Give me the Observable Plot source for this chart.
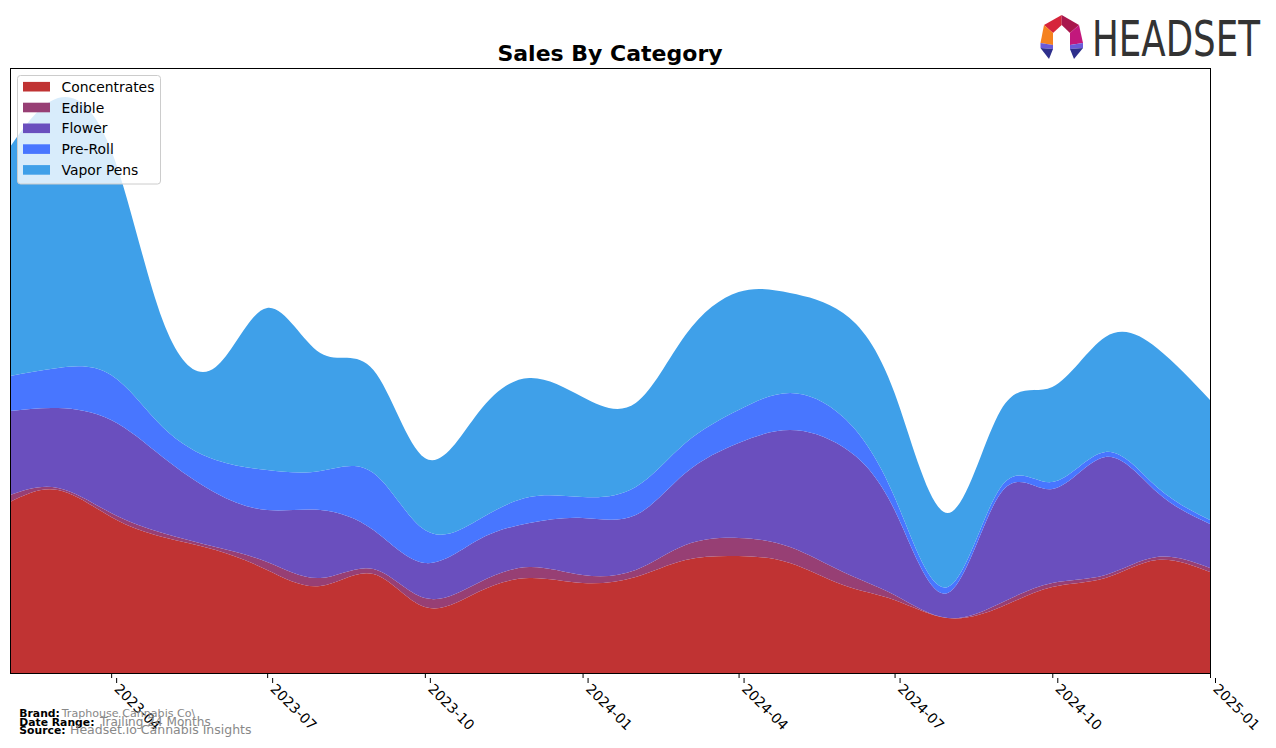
<!DOCTYPE html>
<html><head><meta charset="utf-8">
<script src="https://cdn.jsdelivr.net/npm/d3@7"></script>
<script src="https://cdn.jsdelivr.net/npm/@observablehq/plot@0.6"></script>
<style>
body{margin:0;background:#fff;}
#wrap{position:relative;width:1276px;height:748px;overflow:hidden;font-family:"DejaVu Sans",sans-serif;}
#wrap > svg{position:absolute;left:0;top:0;}
</style></head><body><div id="wrap"></div>
<script>
// ---- data ----
const months = ["2023-02","2023-03","2023-04","2023-05","2023-06","2023-07","2023-08","2023-09","2023-10","2023-11","2023-12",
  "2024-01","2024-02","2024-03","2024-04","2024-05","2024-06","2024-07","2024-08","2024-09","2024-10","2024-11","2024-12","2025-01"];
const categories = ["Concentrates","Edible","Flower","Pre-Roll","Vapor Pens"];
const colors = ["#c03333","#973f74","#6a4fbe","#4876ff","#3fa0e9"];
const concentrates = [171,183,156,136,123,103,87,99,66,81,95,90,96,113,117,110,88,73,55,66,86,95,113,101];
const edible       = [7,2,4,4,3,8,8,5,9,9,11,8,7,15,18,16,13,5,0,4,4,3,3,4];
const flower       = [84,80,93,76,54,52,68,39,35,43,44,57,55,72,95,117,125,85,25,110,94,118,65,44];
const preRoll      = [35,40,45,30,33,40,39,57,33,20,26,21,28,30,33,37,30,13,6,6,7,5,5,4];
const vaporPens    = [229,270,225,107,93,162,118,103,72,107,119,100,84,108,118,100,104,104,74,77,95,115,139,120];
const tickLabels = ["2023-04","2023-07","2023-10","2024-01","2024-04","2024-07","2024-10","2025-01"];
const seriesValues = [concentrates, edible, flower, preRoll, vaporPens];

const parse = d3.utcParse("%Y-%m");
const table = [];
categories.forEach((c, ci) => months.forEach((m, i) => table.push({date: parse(m), category: c, value: seriesValues[ci][i]})));
const tickDates = tickLabels.map(parse);

const chart = Plot.plot({
  width: 1276, height: 748,
  marginLeft: 10, marginRight: 66, marginTop: 68, marginBottom: 75,
  style: {fontFamily: "DejaVu Sans, sans-serif", background: "transparent", overflow: "visible", color: "black"},
  x: {type: "utc", domain: [parse(months[0]), parse(months[months.length - 1])]},
  y: {domain: [0, 605], axis: null},
  color: {domain: categories, range: colors},
  marks: [
    Plot.areaY(table, {x: "date", y: "value", fill: "category", order: categories, curve: "natural"}),
    Plot.frame({stroke: "black", strokeWidth: 1}),
    Plot.axisX(tickDates, {text: null, tickSize: 5, stroke: "black"}),
    Plot.axisX(tickDates, {tickFormat: d3.utcFormat("%Y-%m"), tickRotate: 45, tickSize: 5, tickPadding: 3, dx: 5, dy: 5, fontSize: 14, fill: "black", label: null, tick: null})
  ]
});
const wrap = document.getElementById("wrap");
wrap.appendChild(chart);

// ---- overlay: title, legend, logo, footer ----
const ov = d3.select(wrap).append("svg").attr("width", 1276).attr("height", 748)
  .style("font-family", "DejaVu Sans, sans-serif");

ov.append("text").attr("x", 610).attr("y", 61).attr("text-anchor", "middle")
  .attr("font-size", 22).attr("font-weight", "bold").attr("fill", "black").text("Sales By Category");

// legend
const lg = ov.append("g");
lg.append("rect").attr("x", 17.5).attr("y", 75.5).attr("width", 143).attr("height", 108.5).attr("rx", 3)
  .attr("fill", "rgba(255,255,255,0.8)").attr("stroke", "#cccccc");
categories.forEach((c, i) => {
  const cy = 86.7 + i * 20.8;
  lg.append("rect").attr("x", 23).attr("y", cy - 4.8).attr("width", 27).attr("height", 9.6).attr("fill", colors[i]);
  lg.append("text").attr("x", 61.5).attr("y", cy + 5).attr("font-size", 13.9).attr("fill", "black").text(c);
});

// logo
const logo = ov.append("g");
const polys = [
  {p: [[1044,25],[1061.7,15],[1061.7,25],[1053,33]], f: "#d6243a"},
  {p: [[1061.7,15],[1079,25],[1070,33],[1061.7,25]], f: "#a9174d"},
  {p: [[1044,25],[1053,33],[1053,45],[1040.5,43]], f: "#f5821f"},
  {p: [[1079,25],[1083,43],[1070,45],[1070,33]], f: "#c2187c"},
  {p: [[1040.5,43],[1053,45],[1053,49],[1040.5,48]], f: "#6a5ad8"},
  {p: [[1040.5,48],[1053,49],[1049,59]], f: "#2e2f8c"},
  {p: [[1083,43],[1070,45],[1070,49],[1083,48]], f: "#6a5ad8"},
  {p: [[1083,48],[1070,49],[1074,59]], f: "#2e2f8c"}
];
polys.forEach(d => logo.append("polygon").attr("points", d.p.map(q => q.join(",")).join(" ")).attr("fill", d.f));
logo.append("text").attr("x", 1092).attr("y", 56).attr("font-size", 49).attr("fill", "#333333")
  .attr("textLength", 168).attr("lengthAdjust", "spacingAndGlyphs")
  .style("font-family", "'DejaVu Sans Condensed','DejaVu Sans',sans-serif").text("HEADSET");

// footer
const ft = ov.append("g");
const foot = [
  {label: "Brand:", value: "Traphouse Cannabis Co\\", y: 717.3, vx: 61.7, vs: 11.1},
  {label: "Date Range:", value: "Trailing 24 Months", y: 726, vx: 100, vs: 12.1},
  {label: "Source:", value: "Headset.io Cannabis Insights", y: 734.3, vx: 70, vs: 12.5}
];
foot.forEach(d => {
  ft.append("text").attr("x", 19.3).attr("y", d.y).attr("font-size", 10.8).attr("font-weight", "bold").attr("fill", "black").text(d.label);
  ft.append("text").attr("x", d.vx).attr("y", d.y).attr("font-size", d.vs).attr("fill", "#888888").text(d.value);
});
</script></body></html>
